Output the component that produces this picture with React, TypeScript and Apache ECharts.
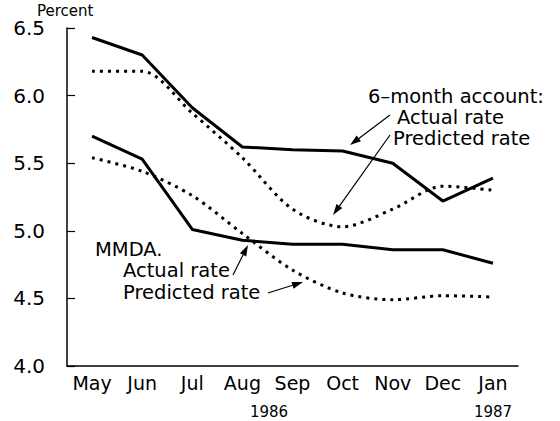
import React, { useEffect, useRef } from "react";
import * as echarts from "echarts";

const months = ["May", "Jun", "Jul", "Aug", "Sep", "Oct", "Nov", "Dec", "Jan"];
const sixMonthActual = [6.43, 6.3, 5.91, 5.62, 5.6, 5.59, 5.5, 5.22, 5.39];
const sixMonthPredicted = [6.18, 6.18, 5.87, 5.54, 5.16, 5.03, 5.16, 5.33, 5.3];
const mmdaActual = [5.7, 5.53, 5.01, 4.93, 4.9, 4.9, 4.86, 4.86, 4.76];
const mmdaPredicted = [5.54, 5.44, 5.26, 4.98, 4.71, 4.54, 4.49, 4.52, 4.51];
const yearLabels = ["1986", "1987"];

const FONT = "DejaVu Sans";

function arrow(x1: number, y1: number, x2: number, y2: number) {
  const dx = x2 - x1;
  const dy = y2 - y1;
  const len = Math.sqrt(dx * dx + dy * dy);
  const ux = dx / len;
  const uy = dy / len;
  const hl = 11;
  const hw = 3.5;
  const bx = x2 - ux * hl;
  const by = y2 - uy * hl;
  return {
    type: "group",
    children: [
      {
        type: "line",
        shape: { x1, y1, x2: bx, y2: by },
        style: { stroke: "#000", lineWidth: 1.2 },
      },
      {
        type: "polygon",
        shape: {
          points: [
            [x2, y2],
            [bx - uy * hw, by + ux * hw],
            [bx + uy * hw, by - ux * hw],
          ],
        },
        style: { fill: "#000" },
      },
    ],
  };
}

function label(text: string, x: number, y: number, size = 19.5, align = "left") {
  return {
    type: "text",
    x,
    y,
    style: {
      text,
      fontFamily: FONT,
      fontSize: size,
      lineHeight: size,
      fill: "#000",
      textAlign: align,
      textVerticalAlign: "middle",
    },
  };
}

export default function App() {
  const ref = useRef<HTMLDivElement>(null);
  useEffect(() => {
    if (!ref.current) return;
    const chart = echarts.init(ref.current, undefined, { renderer: "svg" });
    const dotted = { type: [3, 5] as any, width: 3, color: "#000", cap: "butt" };
    const solid = { type: "solid", width: 3, color: "#000" };
    chart.setOption({
      animation: false,
      backgroundColor: "#fff",
      grid: { left: 67, top: 28, width: 451, height: 338, containLabel: false },
      xAxis: {
        type: "category",
        data: months,
        boundaryGap: true,
        axisLine: { lineStyle: { color: "#000", width: 1.5 } },
        axisTick: { inside: true, length: 7, lineStyle: { color: "#000", width: 1.2 } },
        axisLabel: { color: "#000", fontFamily: FONT, fontSize: 19, margin: 7, interval: 0 },
      },
      yAxis: {
        type: "value",
        min: 4,
        max: 6.5,
        interval: 0.5,
        splitLine: { show: false },
        axisLine: { show: true, lineStyle: { color: "#000", width: 1.5 } },
        axisTick: { show: true, inside: true, length: 8, lineStyle: { color: "#000", width: 1.2 } },
        axisLabel: {
          color: "#000",
          fontFamily: FONT,
          fontSize: 20,
          margin: 22,
          formatter: (v: number) => v.toFixed(1),
        },
      },
      series: [
        { type: "line", name: "6-month actual", data: sixMonthActual, symbol: "none", lineStyle: solid },
        { type: "line", name: "6-month predicted", data: sixMonthPredicted, symbol: "none", smooth: 0.3, lineStyle: dotted },
        { type: "line", name: "MMDA actual", data: mmdaActual, symbol: "none", lineStyle: solid },
        { type: "line", name: "MMDA predicted", data: mmdaPredicted, symbol: "none", smooth: 0.3, lineStyle: dotted },
      ],
      graphic: [
        label("Percent", 37, 11, 15),
        label(yearLabels[0], 269, 412, 15, "center"),
        label(yearLabels[1], 493, 412, 15, "center"),
        label("6\u2013month account:", 368, 96),
        label("Actual rate", 397, 117),
        label("Predicted rate", 393, 138),
        label("MMDA.", 95, 249),
        label("Actual rate", 123, 270),
        label("Predicted rate", 123, 292),
        arrow(390, 115, 350, 145),
        arrow(390, 135, 333, 215),
        arrow(233, 275, 248, 245),
        arrow(268, 293, 303, 282),
      ],
    });
    return () => chart.dispose();
  }, []);
  return (
    <div
      ref={ref}
      style={{ position: "fixed", left: 0, top: 0, width: 560, height: 421, background: "#fff" }}
    />
  );
}
